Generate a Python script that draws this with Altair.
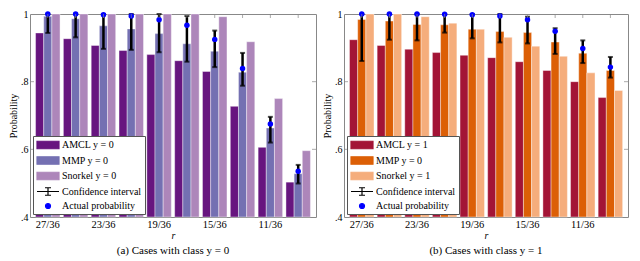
import altair as alt
import pandas as pd

groups = ["27/36", "25/36", "23/36", "21/36", "19/36", "17/36", "15/36", "13/36", "11/36", "9/36"]
shown_labels = ["27/36", "23/36", "19/36", "15/36", "11/36"]
series = ["AMCL", "MMP", "Snorkel"]

# Panel (a): class y = 0
a_amcl = [0.944, 0.927, 0.907, 0.892, 0.880, 0.862, 0.830, 0.727, 0.606, 0.503]
a_mmp = [0.993, 0.986, 0.965, 0.956, 0.942, 0.912, 0.890, 0.828, 0.663, 0.528]
a_snorkel = [1.0, 1.0, 1.0, 1.0, 1.0, 1.0, 0.992, 0.918, 0.750, 0.596]
a_actual = [1.0, 1.0, 0.998, 0.994, 0.983, 0.967, 0.925, 0.839, 0.675, 0.535]
a_ci_lo = [0.944, 0.931, 0.897, 0.894, 0.887, 0.859, 0.843, 0.788, 0.620, 0.499]
a_ci_hi = [1.0, 1.0, 1.0, 1.0, 1.0, 0.994, 0.951, 0.885, 0.696, 0.554]

# Panel (b): class y = 1
b_amcl = [0.924, 0.907, 0.896, 0.886, 0.878, 0.871, 0.859, 0.833, 0.800, 0.753]
b_mmp = [0.984, 0.979, 0.969, 0.968, 0.955, 0.948, 0.945, 0.917, 0.884, 0.833]
b_snorkel = [1.0, 1.0, 0.992, 0.973, 0.955, 0.931, 0.905, 0.875, 0.826, 0.774]
b_actual = [1.0, 1.0, 1.0, 0.999, 0.998, 0.994, 0.983, 0.949, 0.898, 0.843]
b_ci_lo = [0.861, 0.924, 0.922, 0.945, 0.928, 0.916, 0.913, 0.882, 0.855, 0.812]
b_ci_hi = [1.0, 1.0, 1.0, 1.0, 1.0, 1.0, 0.992, 0.958, 0.922, 0.873]

a_colors = ["#67157f", "#7470b2", "#ad86ba"]
b_colors = ["#a31436", "#dc5f06", "#f5ad7c"]
a_legend = ["AMCL y = 0", "MMP y = 0", "Snorkel y = 0", "Confidence interval", "Actual probability"]
b_legend = ["AMCL y = 1", "MMP y = 0", "Snorkel y = 1", "Confidence interval", "Actual probability"]
y_ticks = [0.4, 0.6, 0.8, 1.0]

FONT = "Liberation Serif"
# legend symbols: size 100 -> 1 unit = 5px; symbols extend to the right, label offset compensates
SWATCH = "M-1,-0.75H3.4V0.75H-1Z"
ERRBAR = "M-1,0H3.4M1.2,-0.75V0.75M0.6,-0.75H1.8M0.6,0.75H1.8"
DOT = "M0.7,0A0.5,0.5 0 1,0 1.7,0A0.5,0.5 0 1,0 0.7,0Z"


def panel(amcl, mmp, snorkel, actual, lo, hi, colors, legend_labels, caption, width):
    rows = []
    for i, g in enumerate(groups):
        for s, vals in zip(series, [amcl, mmp, snorkel]):
            rows.append({"r": g, "series": s, "p": vals[i]})
    bars_df = pd.DataFrame(rows)
    ci_df = pd.DataFrame({"r": groups, "series": ["MMP"] * len(groups),
                          "lo": lo, "hi": hi, "actual": actual})
    leg_df = pd.DataFrame({"k": legend_labels})
    tick_df = pd.DataFrame({"v": y_ticks[1:-1]})
    top_df = pd.DataFrame({"r": groups, "series": ["MMP"] * len(groups)})

    x = alt.X("r:N", sort=groups, title="r",
              scale=alt.Scale(paddingInner=0.12, paddingOuter=0.2),
              axis=alt.Axis(values=shown_labels, labelAngle=0, ticks=False, domain=False,
                            labelFont=FONT, labelFontSize=10.5, labelColor="black", labelPadding=2,
                            titleFont=FONT, titleFontSize=10, titleFontStyle="italic",
                            titleFontWeight="normal", titleColor="black", titlePadding=1))
    xo = alt.XOffset("series:N", sort=series, scale=alt.Scale(domain=series, paddingInner=0.0))
    yscale = alt.Scale(domain=[0.4, 1.0], clamp=True, nice=False)

    bars = alt.Chart(bars_df).mark_bar(stroke="white", strokeWidth=0.4).encode(
        x=x, xOffset=xo,
        y=alt.Y("p:Q", scale=yscale, title="Probability",
                axis=alt.Axis(values=y_ticks, ticks=False, domain=False, grid=False,
                              labelExpr="datum.value >= 1 ? '1' : slice(format(datum.value, '.1f'), 1)",
                              labelFont=FONT, labelFontSize=10, labelColor="black", labelPadding=2,
                              titleFont=FONT, titleFontSize=10, titleFontWeight="normal",
                              titleColor="black", titlePadding=2)),
        color=alt.Color("series:N", scale=alt.Scale(domain=series, range=colors), legend=None),
    )
    enc = dict(x=alt.X("r:N", sort=groups), xOffset=alt.XOffset("series:N"))
    rule = alt.Chart(ci_df).mark_rule(color="black", strokeWidth=2.5).encode(
        y=alt.Y("lo:Q", scale=yscale), y2="hi:Q", **enc)
    cap_lo = alt.Chart(ci_df).mark_tick(color="black", thickness=2, size=5, orient="horizontal").encode(
        y=alt.Y("lo:Q", scale=yscale), **enc)
    cap_hi = alt.Chart(ci_df).mark_tick(color="black", thickness=2, size=5, orient="horizontal").encode(
        y=alt.Y("hi:Q", scale=yscale), **enc)
    dots = alt.Chart(ci_df).mark_circle(color="#0000ff", size=30, opacity=1).encode(
        y=alt.Y("actual:Q", scale=yscale), **enc)
    lt = alt.Chart(tick_df).mark_tick(color="#888", thickness=1, size=4, orient="horizontal").encode(
        y=alt.Y("v:Q", scale=yscale), x=alt.value(2))
    rt = alt.Chart(tick_df).mark_tick(color="#888", thickness=1, size=4, orient="horizontal").encode(
        y=alt.Y("v:Q", scale=yscale), x=alt.value(width - 2))
    tt = alt.Chart(top_df).mark_tick(color="#888", thickness=1, size=4, orient="vertical").encode(
        y=alt.value(2), **enc)
    leg = alt.Chart(leg_df).transform_filter("false").mark_point(filled=True, opacity=1).encode(
        fill=alt.Fill("k:N", scale=alt.Scale(domain=legend_labels,
                                             range=colors + ["transparent", "#0000ff"])),
        stroke=alt.Stroke("k:N", scale=alt.Scale(domain=legend_labels,
                                                 range=colors + ["black", "#0000ff"])),
        shape=alt.Shape("k:N", scale=alt.Scale(domain=legend_labels,
                                               range=[SWATCH, SWATCH, SWATCH, ERRBAR, DOT]),
                        legend=alt.Legend(title=None, orient="bottom-left", offset=3,
                                          labelFont=FONT, labelFontSize=10, labelColor="black",
                                          labelLimit=200, symbolSize=100, symbolStrokeWidth=1.2,
                                          symbolOpacity=1,
                                          rowPadding=1.5, labelOffset=14, padding=3,
                                          strokeColor="#555", fillColor="white")),
    )
    return alt.layer(bars, rule, cap_lo, cap_hi, dots, lt, rt, tt, leg).properties(
        width=width, height=203,
        title=alt.TitleParams(caption, orient="bottom", font=FONT, fontSize=11,
                              fontWeight="normal", color="black", offset=4),
    )


left = panel(a_amcl, a_mmp, a_snorkel, a_actual, a_ci_lo, a_ci_hi, a_colors, a_legend,
             "(a) Cases with class y = 0", 286)
right = panel(b_amcl, b_mmp, b_snorkel, b_actual, b_ci_lo, b_ci_hi, b_colors, b_legend,
              "(b) Cases with class y = 1", 284)

chart = alt.hconcat(left, right, spacing=5).resolve_scale(
    color="independent", fill="independent", stroke="independent", shape="independent",
    y="independent", x="independent"
).resolve_legend(fill="independent", stroke="independent", shape="independent").properties(
    padding=0
).configure(font=FONT).configure_view(stroke="#888", strokeWidth=1)

chart.save("out.html", embed_options={"renderer": "svg", "actions": False})
